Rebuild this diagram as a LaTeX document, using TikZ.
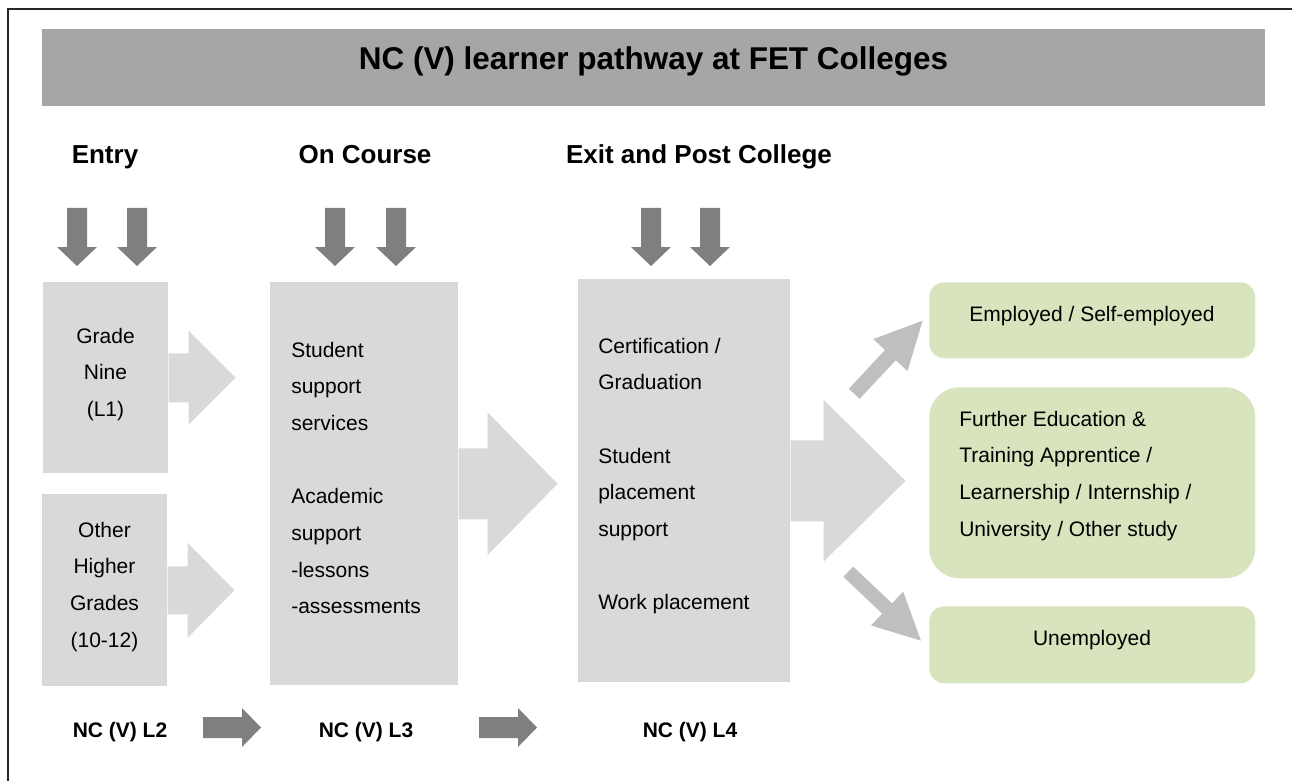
\documentclass[tikz,border=0pt]{standalone}
\usepackage{fontspec}
\setmainfont{Liberation Sans}
\definecolor{lgray}{HTML}{D9D9D9}
\definecolor{dgray}{HTML}{7F7F7F}
\definecolor{mgray}{HTML}{BFBFBF}
\definecolor{tgray}{HTML}{A6A6A6}
\definecolor{lgreen}{HTML}{D7E4BD}
\newcommand\myBody{\fontsize{15.75pt}{27.5pt}\selectfont}
\newcommand\myHead{\fontsize{19.5pt}{23pt}\selectfont\bfseries}
\newcommand\myTitle{\fontsize{23.6pt}{28pt}\selectfont\bfseries}
\newcommand\myLab{\fontsize{15.75pt}{19pt}\selectfont\bfseries}
% block arrow: #1 options, #2 start, #3 shaft length, #4 shaft half width, #5 head length, #6 head half width
\newcommand\barrow[6]{%
  \fill[shift={(#2)},#1] (0,-#4) -- ++(#3,0) -- ++(0,#4-#6) -- ++(#5,#6) -- ++(-#5,#6) -- ++(0,#4-#6) -- ++(-#3,0) -- cycle;}
\tikzset{
  sz/.style 2 args={minimum width=#1*0.75pt, minimum height=#2*0.75pt},
  lbox/.style={fill=lgray, draw=none, inner sep=0pt, anchor=north west},
  gbox/.style={fill=lgreen, draw=none, inner sep=0pt, anchor=north west, rounded corners=11.25pt},
  bodytxt/.style={font=\myBody, inner sep=0pt},
  headtxt/.style={font=\myHead, inner sep=0pt, anchor=base},
  labtxt/.style={font=\myLab, inner sep=0pt, anchor=base},
}
\begin{document}
\begin{tikzpicture}[x=0.75pt, y=-0.75pt]
\useasboundingbox (0,0) rectangle (1292,781);
% frame
\draw[line width=1.5pt, black!85] (8,781) -- (8,9) -- (1292,9);
% title
\node[fill=tgray, inner sep=0pt, anchor=north west, sz={1223}{77}] (bar) at (42,29) {};
\node[font=\myTitle, inner sep=0pt, anchor=base] (ttl) at (653.5,70) {NC (V) learner pathway at FET Colleges};
% headings
\node[headtxt] (hentry) at (105,164) {Entry};
\node[headtxt] (hcourse) at (365,164) {On Course};
\node[headtxt] (hexit) at (699,164) {Exit and Post College};
% down arrows
\foreach \xx in {77,137,335,396,651,710}{
  \barrow{dgray, rotate=-90}{\xx,208}{39}{10}{19}{20}
}
% boxes
\node[lbox, sz={125}{191}] (grade) at (43,282) {};
\node[lbox, sz={125}{192}] (other) at (42,494) {};
\node[lbox, sz={188}{403}] (course) at (270,282) {};
\node[lbox, sz={212}{403}] (exit) at (578,279) {};
\node[gbox, sz={326}{76}] (emp) at (929,282) {};
\node[gbox, sz={326}{191}, rounded corners=22.5pt] (further) at (929,387) {};
\node[gbox, sz={326}{77}] (unemp) at (929,606) {};
% block arrows
\barrow{lgray}{grade.east}{20}{24.5}{47}{47}
\barrow{lgray}{other.east}{20}{24}{47}{47.5}
\barrow{lgray}{course.east}{29}{35.5}{70}{71.5}
\barrow{lgray}{exit.east}{33}{40.5}{82}{81}
\barrow{mgray, rotate=46.9}{854.2,393.8}{53}{7.4}{47.2}{23.4}
\barrow{mgray, rotate=-43.5}{848.3,571.7}{53.5}{7.1}{46.7}{23.35}
% texts
\node[bodytxt, anchor=north, align=center] (gradeT) at (105.5,317.33) {\strut Grade\\Nine\\(L1)};
\node[bodytxt, anchor=north, align=center] (otherT) at (104.5,511.33) {\strut Other\\Higher\\Grades\\(10-12)};
\node[bodytxt, anchor=north west, align=left] (courseT) at (291,331.33) {\strut Student\\support\\services\\[27.5pt]Academic\\support\\-lessons\\-assessments};
\node[bodytxt, anchor=north west, align=left] (exitT) at (598,327.33) {\strut Certification /\\Graduation\\[27.5pt]Student\\placement\\support\\[27.5pt]Work placement};
\node[bodytxt, anchor=base] (empT) at (1092,321) {Employed / Self-employed};
\node[bodytxt, anchor=north west, align=left] (furtherT) at (959,400.33) {\strut Further Education \&\\Training Apprentice /\\Learnership / Internship /\\University / Other study};
\node[bodytxt, anchor=base] (unempT) at (1092,645) {Unemployed};
% bottom labels and arrows
\node[labtxt] (l2) at (120,737) {NC (V) L2};
\node[labtxt] (l3) at (366,737) {NC (V) L3};
\node[labtxt] (l4) at (690,737) {NC (V) L4};
\barrow{dgray}{203,727.5}{39}{10.5}{19}{19.5}
\barrow{dgray}{479,727.5}{39}{10.5}{19}{19.5}
\end{tikzpicture}
\end{document}
